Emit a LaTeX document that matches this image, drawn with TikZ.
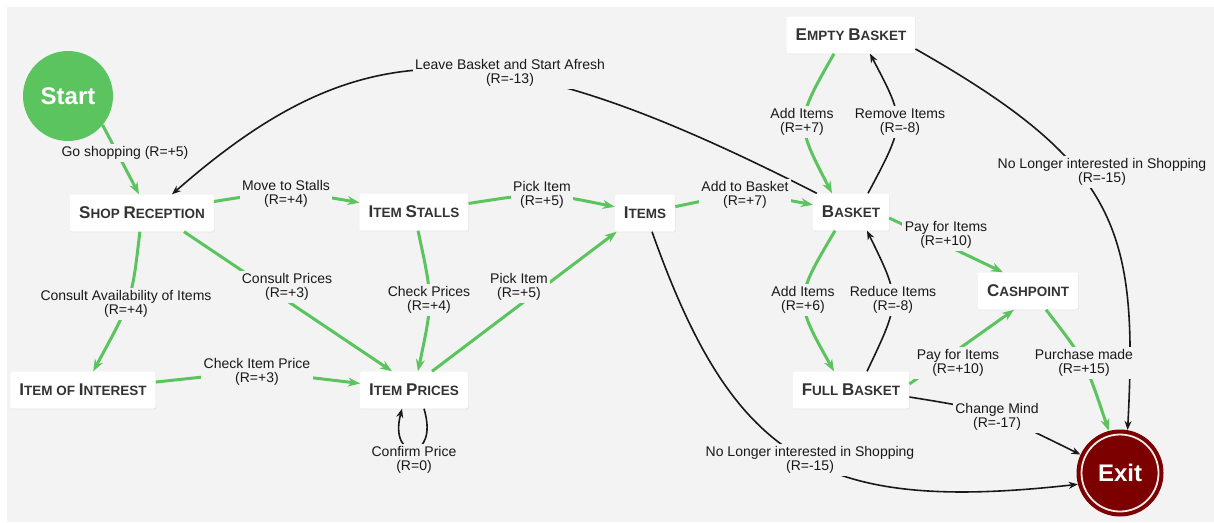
\documentclass[tikz,border=0pt]{standalone}
\usepackage{fontspec}
\setmainfont{Liberation Sans}
\usetikzlibrary{arrows.meta,shadows}
\definecolor{bgc}{HTML}{F3F3F3}
\definecolor{gr}{HTML}{5CC45F}
\definecolor{exred}{HTML}{7D0000}
\definecolor{txt}{HTML}{333333}
\newcommand\BC[1]{{\fontsize{17}{17}\selectfont #1}}
\begin{document}
\begin{tikzpicture}[x=1pt,y=1pt,
  state/.style={fill=white, rounded corners=2pt, inner xsep=9pt, inner ysep=0pt, minimum height=37pt,
    text=txt, font=\bfseries\fontsize{13.5}{14}\selectfont,
    drop shadow={shadow xshift=0.6pt, shadow yshift=-0.8pt, opacity=0.12}},
  gline/.style={draw=gr, line width=3pt, -{Stealth[length=12pt,width=9pt]}},
  bline/.style={draw=black!90, line width=1.6pt, -{Stealth[length=9pt,width=7pt]}},
  lab/.style={fill=bgc, inner sep=2.5pt, align=center, text=black!90,
    font=\fontsize{14}{14.5}\selectfont}]
\fill[white] (0,0) rectangle (1214,-522);
\fill[bgc] (7,-7) rectangle (1214,-522);
\useasboundingbox (0,0) rectangle (1214,-522);

% states
\node[circle, fill=gr, minimum size=90pt, inner sep=0pt, text=white,
  font=\bfseries\fontsize{24}{24}\selectfont] (start) at (68,-96) {Start};
\node[circle, fill=exred, minimum size=87pt, inner sep=0pt, text=white,
  font=\bfseries\fontsize{24}{24}\selectfont] (ex) at (1120,-473) {Exit};
\draw[white!92!exred, line width=1.8pt] (ex.center) circle (38.5pt);

\node[state] (sr)  at (142,-213) {\BC{S}HOP \BC{R}ECEPTION};
\node[state] (is)  at (414,-212) {\BC{I}TEM \BC{S}TALLS};
\node[state] (it)  at (645,-213) {\BC{I}TEMS};
\node[state] (bk)  at (851,-212) {\BC{B}ASKET};
\node[state] (eb)  at (851,-35)  {\BC{E}MPTY \BC{B}ASKET};
\node[state] (cp)  at (1028,-291) {\BC{C}ASHPOINT};
\node[state] (fb)  at (851,-390) {\BC{F}ULL \BC{B}ASKET};
\node[state] (ip)  at (414,-390) {\BC{I}TEM \BC{P}RICES};
\node[state] (ioi) at (83,-390)  {\BC{I}TEM OF \BC{I}NTEREST};

% connectors
\draw[gline] (start.-40) -- ([xshift=-3pt]sr.north);
\draw[gline] (sr) .. controls (286,-190) .. (is);
\draw[gline] (is) .. controls (542,-192) .. (it);
\draw[gline] (it) .. controls (745,-192) .. (bk);
\draw[gline] (sr) .. controls (132,-300) .. (ioi);
\draw[gline] ([xshift=42pt]sr.south) -- ([xshift=-22pt]ip.north);
\draw[gline] (is) .. controls (433,-300) .. (ip);
\draw[gline] ([xshift=18pt]ip.north) -- ([xshift=2pt]it.south west);
\draw[gline] (ioi) .. controls (257,-371) .. (ip);
\draw[bline] ([xshift=10pt]ip.south) .. controls (440,-462) and (388,-462) .. ([xshift=-12pt]ip.south);
\draw[gline] ([xshift=-17pt]eb.south) .. controls (795,-122) .. ([xshift=-19pt]bk.north);
\draw[bline] ([xshift=17pt]bk.north) .. controls (906,-122) .. ([xshift=19pt]eb.south);
\draw[gline] ([xshift=-16pt]bk.south) .. controls (794,-300) .. ([xshift=-17pt]fb.north);
\draw[bline] ([xshift=16pt]fb.north) .. controls (901,-300) .. ([xshift=16pt]bk.south);
\draw[gline] ([yshift=-6pt]bk.east) -- ([xshift=-25pt]cp.north);
\draw[gline] ([yshift=6pt]fb.east) -- ([xshift=-14pt]cp.south);
\draw[gline] ([xshift=18pt]cp.south) .. controls (1085,-360) .. (ex.105);
\draw[bline] ([yshift=-7pt]fb.east) .. controls (990,-410) .. (ex.155);
\draw[bline] ([yshift=-14pt]eb.east) .. controls (1120,-165) and (1138,-230) .. (ex.80);
\draw[bline] ([xshift=7pt]it.south) .. controls (734,-463) and (820,-513) .. (ex.195);
\draw[bline] ([xshift=4pt]bk.north west) .. controls (492,-28) and (362,-28) .. ([xshift=30pt]sr.north);

% labels
\node[lab] (l1)  at (125,-153) {Go shopping (R=+5)};
\node[lab] (l2)  at (286,-194) {Move to Stalls\\(R=+4)};
\node[lab] (l3)  at (542,-195) {Pick Item\\(R=+5)};
\node[lab] (l4)  at (745,-195) {Add to Basket\\(R=+7)};
\node[lab] (l5)  at (126,-304) {Consult Availability of Items\\(R=+4)};
\node[lab] (l6)  at (287,-287) {Consult Prices\\(R=+3)};
\node[lab] (l7)  at (429,-300) {Check Prices\\(R=+4)};
\node[lab] (l8)  at (519,-287) {Pick Item\\(R=+5)};
\node[lab] (l9)  at (257,-372) {Check Item Price\\(R=+3)};
\node[lab] (l10) at (414,-460) {Confirm Price\\(R=0)};
\node[lab] (l11) at (802,-122) {Add Items\\(R=+7)};
\node[lab] (l12) at (900,-122) {Remove Items\\(R=-8)};
\node[lab] (l13) at (803,-300) {Add Items\\(R=+6)};
\node[lab] (l14) at (893,-300) {Reduce Items\\(R=-8)};
\node[lab] (l15) at (946,-235) {Pay for Items\\(R=+10)};
\node[lab] (l16) at (958,-363) {Pay for Items\\(R=+10)};
\node[lab] (l17) at (1084,-363) {Purchase made\\(R=+15)};
\node[lab] (l18) at (997,-417) {Change Mind\\(R=-17)};
\node[lab] (l19) at (1102,-172) {No Longer interested in Shopping\\(R=-15)};
\node[lab] (l20) at (810,-460) {No Longer interested in Shopping\\(R=-15)};
\node[lab] (l21) at (510,-73) {Leave Basket and Start Afresh\\(R=-13)};
\end{tikzpicture}
\end{document}
